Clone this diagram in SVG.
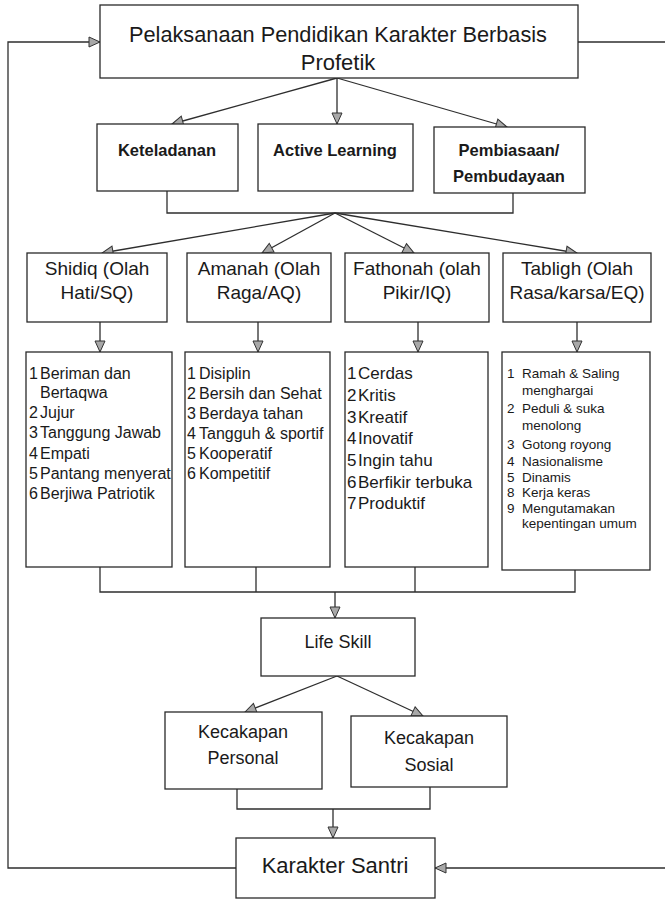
<svg xmlns="http://www.w3.org/2000/svg" width="665" height="900" viewBox="0 0 665 900">
  <defs>
    <marker id="arr" markerUnits="userSpaceOnUse" markerWidth="14" markerHeight="12" refX="12" refY="6" orient="auto">
      <path d="M1,1 L12,6 L1,11 Z" fill="#a8a8a8" stroke="#333" stroke-width="1"/>
    </marker>
  </defs>
  <style>
    .box { fill: #fff; stroke: #2a2a2a; stroke-width: 1.3; }
    .ln { fill: none; stroke: #2e2e2e; stroke-width: 1.3; }
    .ar { fill: none; stroke: #2e2e2e; stroke-width: 1.3; marker-end: url(#arr); }
    text { font-family: "Liberation Sans Narrow", "Liberation Sans", Arial, sans-serif; fill: #1a1a1a; }
    .c { text-anchor: middle; }
    .b { font-weight: bold; }
  </style>
  <rect width="665" height="900" fill="#fff"/>

  <!-- connectors -->
  <g id="connectors">
    <!-- feedback loop -->
    <path class="ar" d="M236,868 H8 V42 H100"/>
    <path class="ln" d="M578,42 H665"/>
    <path class="ar" d="M665,868 H435"/>
    <!-- top to strategies -->
    <line class="ar" x1="337" y1="78" x2="172" y2="124"/>
    <line class="ar" x1="337" y1="78" x2="337" y2="124"/>
    <line class="ar" x1="337" y1="78" x2="507" y2="127"/>
    <!-- strategies merge -->
    <path class="ln" d="M167,191 V213 H513 V193"/>
    <line class="ar" x1="335" y1="213" x2="102" y2="253"/>
    <line class="ar" x1="335" y1="213" x2="262" y2="253"/>
    <line class="ar" x1="335" y1="213" x2="414" y2="253"/>
    <line class="ar" x1="335" y1="213" x2="577" y2="253"/>
    <!-- values to lists -->
    <line class="ar" x1="100" y1="322" x2="100" y2="352"/>
    <line class="ar" x1="258" y1="322" x2="258" y2="352"/>
    <line class="ar" x1="418" y1="322" x2="418" y2="352"/>
    <line class="ar" x1="577" y1="322" x2="577" y2="352"/>
    <!-- lists merge -->
    <path class="ln" d="M100,567 V592 H575 V570 M256,567 V592 M415,567 V592"/>
    <line class="ar" x1="335" y1="592" x2="335" y2="618"/>
    <!-- life skill split -->
    <line class="ar" x1="337" y1="676" x2="245" y2="712"/>
    <line class="ar" x1="337" y1="676" x2="423" y2="716"/>
    <!-- skills merge -->
    <path class="ln" d="M237,789 V809 H430 V787"/>
    <line class="ar" x1="333" y1="809" x2="333" y2="838"/>
  </g>

  <g id="pelaksanaan">
    <rect class="box" x="100" y="5" width="478" height="73"/>
    <text class="c" x="338" y="42" font-size="22" textLength="418" lengthAdjust="spacingAndGlyphs">Pelaksanaan Pendidikan Karakter Berbasis</text>
    <text class="c" x="338" y="70" font-size="22">Profetik</text>
  </g>

  <g id="keteladanan">
    <rect class="box" x="97" y="124" width="141" height="67"/>
    <text class="c b" x="167" y="156" font-size="16.5">Keteladanan</text>
  </g>
  <g id="active-learning">
    <rect class="box" x="258" y="124" width="155" height="67"/>
    <text class="c b" x="335" y="156" font-size="16.5">Active Learning</text>
  </g>
  <g id="pembiasaan">
    <rect class="box" x="434" y="127" width="151" height="66"/>
    <text class="c b" x="509" y="156" font-size="16.5">Pembiasaan/</text>
    <text class="c b" x="509" y="182" font-size="16.5">Pembudayaan</text>
  </g>

  <g id="shidiq">
    <rect class="box" x="27" y="253" width="140" height="69"/>
    <text class="c" x="97" y="275" font-size="19">Shidiq (Olah</text>
    <text class="c" x="97" y="299" font-size="19">Hati/SQ)</text>
  </g>
  <g id="amanah">
    <rect class="box" x="187" y="253" width="144" height="69"/>
    <text class="c" x="259" y="275" font-size="19">Amanah (Olah</text>
    <text class="c" x="259" y="299" font-size="19">Raga/AQ)</text>
  </g>
  <g id="fathonah">
    <rect class="box" x="345" y="253" width="144" height="69"/>
    <text class="c" x="417" y="275" font-size="19">Fathonah (olah</text>
    <text class="c" x="417" y="299" font-size="19">Pikir/IQ)</text>
  </g>
  <g id="tabligh">
    <rect class="box" x="503" y="253" width="148" height="69"/>
    <text class="c" x="577" y="275" font-size="19">Tabligh (Olah</text>
    <text class="c" x="577" y="299" font-size="19">Rasa/karsa/EQ)</text>
  </g>

  <g id="shidiq-list">
    <rect class="box" x="26" y="352" width="146" height="215"/>
    <g font-size="16">
      <text x="29" y="379">1</text><text x="40" y="379">Beriman dan</text>
      <text x="40" y="398">Bertaqwa</text>
      <text x="29" y="418">2</text><text x="40" y="418">Jujur</text>
      <text x="29" y="438">3</text><text x="40" y="438">Tanggung Jawab</text>
      <text x="29" y="459">4</text><text x="40" y="459">Empati</text>
      <text x="29" y="479">5</text><text x="40" y="479">Pantang menyerat</text>
      <text x="29" y="499">6</text><text x="40" y="499">Berjiwa Patriotik</text>
    </g>
  </g>
  <g id="amanah-list">
    <rect class="box" x="185" y="352" width="145" height="215"/>
    <g font-size="16">
      <text x="187" y="379">1</text><text x="199" y="379">Disiplin</text>
      <text x="187" y="399">2</text><text x="199" y="399">Bersih dan Sehat</text>
      <text x="187" y="419">3</text><text x="199" y="419">Berdaya tahan</text>
      <text x="187" y="439">4</text><text x="199" y="439">Tangguh &amp; sportif</text>
      <text x="187" y="459">5</text><text x="199" y="459">Kooperatif</text>
      <text x="187" y="479">6</text><text x="199" y="479">Kompetitif</text>
    </g>
  </g>
  <g id="fathonah-list">
    <rect class="box" x="345" y="352" width="143" height="215"/>
    <g font-size="17">
      <text x="347" y="379">1</text><text x="358" y="379">Cerdas</text>
      <text x="347" y="401">2</text><text x="358" y="401">Kritis</text>
      <text x="347" y="423">3</text><text x="358" y="423">Kreatif</text>
      <text x="347" y="444">4</text><text x="358" y="444">Inovatif</text>
      <text x="347" y="466">5</text><text x="358" y="466">Ingin tahu</text>
      <text x="347" y="488">6</text><text x="358" y="488">Berfikir terbuka</text>
      <text x="347" y="509">7</text><text x="358" y="509">Produktif</text>
    </g>
  </g>
  <g id="tabligh-list">
    <rect class="box" x="502" y="352" width="148" height="218"/>
    <g font-size="13.5">
      <text x="507" y="378">1</text><text x="522" y="378">Ramah &amp; Saling</text>
      <text x="522" y="395">menghargai</text>
      <text x="507" y="413">2</text><text x="522" y="413">Peduli &amp; suka</text>
      <text x="522" y="430">menolong</text>
      <text x="507" y="449">3</text><text x="522" y="449">Gotong royong</text>
      <text x="507" y="466">4</text><text x="522" y="466">Nasionalisme</text>
      <text x="507" y="482">5</text><text x="522" y="482">Dinamis</text>
      <text x="507" y="497">8</text><text x="522" y="497">Kerja keras</text>
      <text x="507" y="513">9</text><text x="522" y="513">Mengutamakan</text>
      <text x="522" y="528">kepentingan umum</text>
    </g>
  </g>

  <g id="life-skill">
    <rect class="box" x="261" y="618" width="154" height="58"/>
    <text class="c" x="338" y="648" font-size="18">Life Skill</text>
  </g>
  <g id="kecakapan-personal">
    <rect class="box" x="165" y="712" width="157" height="77"/>
    <text class="c" x="243" y="738" font-size="18">Kecakapan</text>
    <text class="c" x="243" y="764" font-size="18">Personal</text>
  </g>
  <g id="kecakapan-sosial">
    <rect class="box" x="351" y="716" width="156" height="71"/>
    <text class="c" x="429" y="744" font-size="18">Kecakapan</text>
    <text class="c" x="429" y="771" font-size="18">Sosial</text>
  </g>
  <g id="karakter-santri">
    <rect class="box" x="236" y="838" width="199" height="60"/>
    <text class="c" x="335" y="873" font-size="22">Karakter Santri</text>
  </g>
</svg>
